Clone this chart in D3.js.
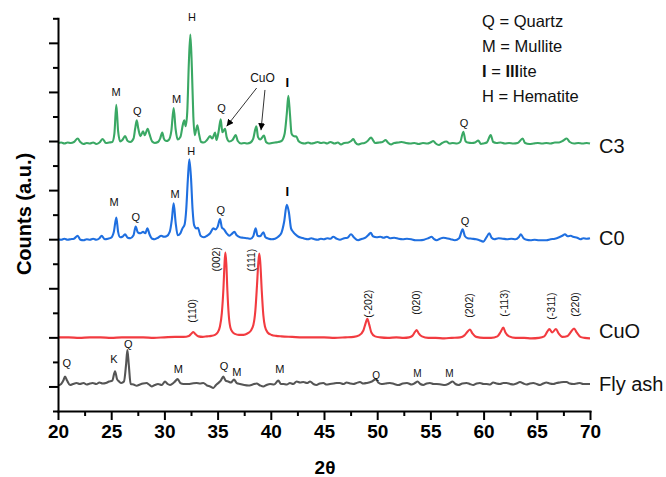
<!DOCTYPE html>
<html><head><meta charset="utf-8">
<script src="https://cdn.jsdelivr.net/npm/d3@7/dist/d3.min.js"></script>
<style>
body{margin:0;background:#fff;}
text{font-family:"Liberation Sans",Arial,sans-serif;}
</style></head>
<body><svg id="chart" width="666" height="477"></svg>
<script>
// ---------------- DATA ----------------
const seriesNames = ["C3", "C0", "CuO", "Fly ash"];
const seriesOffsets = [5, 3, 1, 0];
const seriesColors = ["#3aa864", "#1f6fe0", "#f23b40", "#555555"];

const c3 = [[20.0,-0.04],[20.3,-0.03],[20.6,-0.05],[20.9,-0.03],[21.2,-0.04],[21.5,-0.02],[21.85,0.05],[22.1,-0.02],[22.4,-0.06],[22.7,-0.04],[23.0,-0.05],[23.3,-0.03],[23.6,-0.06],[23.9,-0.03],[24.2,0.04],[24.5,-0.04],[24.8,-0.03],[25.1,-0.02],[25.3,0.15],[25.48,0.74],[25.65,0.2],[25.85,-0.01],[26.05,0.02],[26.3,0.1],[26.55,0.0],[26.8,-0.02],[27.1,0.05],[27.25,0.25],[27.4,0.42],[27.55,0.25],[27.75,0.1],[28.0,0.2],[28.15,0.12],[28.43,0.25],[28.6,0.14],[28.85,-0.01],[29.1,-0.04],[29.4,-0.02],[29.6,0.05],[29.8,0.17],[29.95,0.05],[30.15,0.0],[30.4,0.02],[30.65,0.2],[30.87,0.67],[31.05,0.25],[31.25,0.03],[31.5,0.08],[31.75,0.35],[31.87,0.42],[32.0,0.3],[32.15,0.6],[32.3,1.6],[32.44,2.17],[32.58,1.5],[32.72,0.5],[32.85,0.12],[33.0,0.25],[33.1,0.32],[33.25,0.15],[33.45,-0.02],[33.7,-0.03],[34.0,0.02],[34.29,0.1],[34.5,0.05],[34.76,0.17],[34.9,0.02],[35.1,0.2],[35.29,0.44],[35.45,0.18],[35.7,0.25],[35.85,0.08],[36.1,-0.01],[36.4,0.02],[36.7,0.12],[36.9,0.0],[37.2,-0.05],[37.5,-0.04],[37.8,-0.05],[38.1,-0.03],[38.35,0.05],[38.64,0.3],[38.8,0.08],[39.0,0.03],[39.36,0.11],[39.55,-0.02],[39.8,-0.05],[40.1,-0.04],[40.4,-0.03],[40.7,-0.02],[41.0,0.0],[41.3,0.15],[41.5,0.55],[41.65,0.92],[41.8,0.55],[41.95,0.15],[42.15,0.1],[42.4,0.09],[42.6,0.0],[42.9,-0.04],[43.2,-0.05],[43.5,-0.03],[43.8,-0.05],[44.1,-0.04],[44.4,-0.02],[44.7,-0.04],[45.0,-0.03],[45.3,-0.05],[45.6,-0.02],[46.0,-0.05],[46.3,-0.03],[46.6,-0.07],[46.9,-0.04],[47.3,-0.03],[47.55,0.0],[47.75,0.04],[47.95,-0.03],[48.2,-0.07],[48.5,-0.05],[48.8,-0.04],[49.1,0.0],[49.42,0.07],[49.6,0.02],[49.8,-0.04],[50.2,-0.03],[50.5,-0.02],[50.8,0.02],[51.0,-0.03],[51.3,-0.07],[51.6,-0.04],[52.0,-0.03],[52.3,-0.02],[52.7,-0.04],[53.1,-0.05],[53.5,-0.04],[53.9,-0.06],[54.3,-0.04],[54.7,-0.05],[55.0,-0.03],[55.27,0.0],[55.5,-0.05],[55.8,-0.08],[56.1,-0.04],[56.5,-0.01],[56.8,-0.05],[57.1,-0.04],[57.5,-0.05],[57.8,-0.02],[58.1,0.19],[58.3,0.0],[58.5,-0.03],[58.9,-0.04],[59.2,-0.03],[59.5,0.01],[59.75,-0.06],[60.0,-0.05],[60.3,-0.03],[60.67,0.12],[60.9,-0.02],[61.2,-0.04],[61.6,-0.03],[62.0,-0.05],[62.4,-0.04],[62.8,-0.05],[63.2,-0.04],[63.67,0.05],[63.9,-0.04],[64.3,-0.06],[64.7,-0.05],[65.1,-0.04],[65.5,-0.05],[65.9,-0.04],[66.3,-0.05],[66.7,-0.03],[67.1,-0.03],[67.5,0.01],[67.8,0.05],[68.1,-0.02],[68.5,-0.05],[68.9,-0.04],[69.3,-0.05],[69.7,-0.04],[70.0,-0.05]];

const c0 = [[20.0,0.0],[20.3,-0.01],[20.6,0.01],[20.9,-0.01],[21.2,0.0],[21.5,0.01],[21.85,0.07],[22.1,-0.01],[22.4,-0.02],[22.7,0.0],[23.0,-0.01],[23.3,0.01],[23.6,-0.01],[23.9,0.02],[24.1,0.07],[24.4,0.0],[24.7,0.01],[25.0,0.03],[25.25,0.15],[25.48,0.44],[25.65,0.15],[25.85,0.04],[26.05,0.05],[26.3,0.1],[26.55,0.03],[26.8,0.02],[27.1,0.08],[27.3,0.26],[27.5,0.14],[27.75,0.12],[28.0,0.15],[28.2,0.12],[28.4,0.22],[28.6,0.1],[28.85,0.01],[29.1,0.0],[29.4,0.03],[29.7,0.07],[29.95,0.05],[30.2,0.06],[30.5,0.15],[30.7,0.4],[30.87,0.73],[31.05,0.35],[31.25,0.08],[31.5,0.12],[31.7,0.22],[31.9,0.3],[32.05,0.6],[32.2,1.2],[32.34,1.63],[32.5,1.25],[32.65,0.6],[32.8,0.28],[33.0,0.22],[33.15,0.23],[33.4,0.07],[33.7,0.04],[34.0,0.07],[34.3,0.12],[34.6,0.22],[34.8,0.2],[35.0,0.25],[35.23,0.41],[35.4,0.24],[35.6,0.2],[35.85,0.12],[36.1,0.07],[36.3,0.1],[36.57,0.15],[36.8,0.08],[37.1,0.04],[37.4,0.03],[37.8,0.02],[38.1,0.01],[38.35,0.06],[38.58,0.22],[38.75,0.07],[39.0,0.06],[39.3,0.14],[39.5,0.04],[39.8,0.01],[40.1,0.0],[40.4,0.01],[40.7,0.05],[41.0,0.13],[41.25,0.35],[41.5,0.7],[41.7,0.55],[41.9,0.22],[42.1,0.15],[42.3,0.1],[42.6,0.05],[42.9,0.03],[43.2,0.01],[43.5,0.0],[43.8,0.02],[44.1,0.0],[44.4,-0.01],[44.7,0.01],[45.0,0.0],[45.3,0.02],[45.6,0.01],[45.87,0.05],[46.2,0.01],[46.5,-0.01],[46.9,0.02],[47.2,0.03],[47.54,0.1],[47.8,0.04],[48.2,-0.02],[48.6,0.01],[48.9,0.03],[49.15,0.08],[49.39,0.13],[49.6,0.06],[49.95,0.04],[50.3,0.05],[50.6,0.03],[50.9,0.05],[51.2,0.02],[51.6,0.03],[52.0,0.01],[52.4,0.0],[52.8,0.01],[53.2,0.0],[53.6,-0.02],[54.0,-0.02],[54.4,-0.01],[54.8,0.02],[55.12,0.05],[55.35,0.0],[55.59,-0.02],[55.9,0.01],[56.2,0.03],[56.5,0.02],[56.9,0.0],[57.3,-0.02],[57.7,0.02],[58.03,0.2],[58.25,0.06],[58.5,0.02],[58.9,0.01],[59.3,0.0],[59.6,-0.02],[59.97,-0.05],[60.25,0.03],[60.54,0.12],[60.75,0.03],[61.0,0.0],[61.4,0.02],[61.8,0.01],[62.2,0.0],[62.6,0.01],[63.0,0.0],[63.3,0.04],[63.5,0.1],[63.75,0.02],[64.04,-0.01],[64.4,-0.02],[64.8,-0.01],[65.2,-0.02],[65.6,-0.02],[65.9,-0.02],[66.3,0.0],[66.7,0.01],[67.1,0.04],[67.4,0.07],[67.65,0.1],[67.9,0.06],[68.2,0.07],[68.4,0.05],[68.8,0.03],[69.1,0.0],[69.37,0.02],[69.7,0.01],[70.0,0.02]];

const cuo = [[20.0,0.0],[21.0,0.0],[22.0,-0.01],[23.0,0.0],[24.0,0.0],[25.0,-0.01],[26.0,0.0],[27.0,0.0],[28.0,0.0],[29.0,-0.01],[30.0,0.0],[31.0,0.01],[31.8,0.01],[32.3,0.03],[32.55,0.08],[32.72,0.11],[32.9,0.07],[33.2,0.02],[33.6,0.01],[34.0,0.02],[34.4,0.03],[34.75,0.05],[35.0,0.1],[35.22,0.22],[35.4,0.5],[35.55,1.0],[35.65,1.5],[35.73,1.73],[35.82,1.5],[35.92,0.95],[36.05,0.45],[36.2,0.2],[36.4,0.11],[36.63,0.07],[37.0,0.05],[37.26,0.05],[37.6,0.06],[37.89,0.09],[38.1,0.13],[38.36,0.25],[38.55,0.55],[38.7,1.05],[38.82,1.5],[38.92,1.71],[39.02,1.5],[39.15,0.95],[39.3,0.45],[39.45,0.22],[39.7,0.1],[40.08,0.05],[40.5,0.03],[41.0,0.02],[42.0,0.01],[43.0,0.0],[44.0,0.0],[45.0,0.0],[46.0,-0.01],[47.0,0.0],[47.8,0.01],[48.3,0.04],[48.7,0.14],[48.9,0.28],[49.07,0.38],[49.25,0.26],[49.45,0.1],[49.8,0.02],[50.3,0.0],[51.0,-0.01],[51.8,0.0],[52.5,-0.01],[53.0,0.0],[53.3,0.03],[53.55,0.11],[53.71,0.15],[53.9,0.08],[54.2,0.02],[54.8,-0.01],[55.5,-0.01],[56.3,-0.02],[57.0,-0.01],[57.8,0.0],[58.2,0.04],[58.5,0.12],[58.72,0.16],[58.95,0.08],[59.3,0.01],[60.0,-0.01],[60.7,-0.01],[61.3,0.02],[61.6,0.11],[61.85,0.2],[62.05,0.1],[62.4,0.02],[63.0,-0.01],[63.8,-0.01],[64.5,-0.02],[65.2,-0.01],[65.7,0.02],[66.0,0.12],[66.18,0.17],[66.45,0.1],[66.8,0.17],[67.05,0.08],[67.4,0.01],[67.9,0.03],[68.2,0.11],[68.5,0.18],[68.75,0.1],[69.1,0.01],[69.5,-0.01],[70.0,-0.02]];

const flyash = [[20.0,0.02],[20.3,0.05],[20.5,0.12],[20.66,0.2],[20.85,0.12],[21.13,0.03],[21.4,0.05],[21.75,0.07],[22.05,0.05],[22.4,0.07],[22.7,0.04],[23.0,0.06],[23.26,0.07],[23.6,0.05],[23.89,0.08],[24.2,0.06],[24.5,0.07],[24.8,0.1],[25.1,0.12],[25.36,0.31],[25.55,0.15],[25.75,0.1],[25.95,0.07],[26.2,0.1],[26.4,0.45],[26.52,0.74],[26.65,0.45],[26.83,0.05],[27.1,0.04],[27.4,0.015],[27.7,0.04],[28.0,0.06],[28.33,0.07],[28.55,0.04],[28.8,0.0],[29.1,0.03],[29.4,0.05],[29.75,0.03],[30.06,0.1],[30.3,0.05],[30.53,0.03],[30.9,0.08],[31.25,0.15],[31.5,0.07],[31.8,0.05],[32.25,0.05],[32.6,0.06],[33.03,0.07],[33.35,0.06],[33.66,0.07],[34.0,0.02],[34.3,0.0],[34.6,-0.03],[34.85,0.03],[35.07,0.07],[35.3,0.12],[35.54,0.2],[35.75,0.12],[36.01,0.1],[36.25,0.08],[36.54,0.14],[36.8,0.07],[37.1,0.05],[37.5,0.03],[37.9,0.02],[38.3,0.04],[38.67,0.06],[39.0,0.02],[39.3,0.0],[39.6,0.03],[39.93,0.05],[40.3,0.04],[40.71,0.12],[40.95,0.05],[41.18,0.05],[41.5,0.04],[41.8,0.07],[42.1,0.05],[42.43,0.1],[42.75,0.08],[43.06,0.09],[43.4,0.07],[43.69,0.1],[44.0,0.05],[44.3,0.03],[44.6,0.06],[44.94,0.07],[45.25,0.04],[45.56,0.05],[45.9,0.06],[46.2,0.07],[46.5,0.07],[46.8,0.05],[47.13,0.08],[47.45,0.06],[47.75,0.05],[48.05,0.07],[48.38,0.09],[48.7,0.06],[49.0,0.07],[49.5,0.1],[49.88,0.15],[50.1,0.08],[50.4,0.05],[50.8,0.06],[51.2,0.07],[51.6,0.05],[52.0,0.03],[52.4,0.06],[52.8,0.07],[53.24,0.04],[53.55,0.07],[53.8,0.1],[54.05,0.05],[54.33,0.03],[54.65,0.06],[54.96,0.07],[55.3,0.05],[55.6,0.05],[56.0,0.04],[56.37,0.03],[56.75,0.06],[57.09,0.1],[57.35,0.05],[57.62,0.03],[58.0,0.06],[58.4,0.07],[58.7,0.05],[59.03,0.03],[59.35,0.06],[59.66,0.07],[60.0,0.05],[60.28,0.05],[60.6,0.04],[60.9,0.08],[61.2,0.06],[61.54,0.05],[61.85,0.07],[62.16,0.07],[62.5,0.05],[62.8,0.04],[63.1,0.06],[63.42,0.09],[63.75,0.06],[64.04,0.04],[64.35,0.06],[64.67,0.07],[65.0,0.05],[65.3,0.03],[65.6,0.06],[65.9,0.08],[66.2,0.06],[66.55,0.05],[66.85,0.07],[67.17,0.08],[67.5,0.09],[67.8,0.09],[68.1,0.06],[68.43,0.05],[68.75,0.06],[69.05,0.07],[69.35,0.05],[69.68,0.05],[70.0,0.05]];

const seriesData = [c3, c0, cuo, flyash];

const xTicks = [20, 25, 30, 35, 40, 45, 50, 55, 60, 65, 70];
const yMajorTicks = [0, 1, 2, 3, 4, 5, 6, 7];

// phase labels: [2theta, absolute y (units), text]
const c3Labels = [[25.45,5.91,"M"],[27.45,5.54,"Q"],[31.15,5.78,"M"],[32.6,7.44,"H"],[35.37,5.59,"Q"],[58.16,5.29,"Q"]];
const c0Labels = [[25.28,3.68,"M"],[27.31,3.38,"Q"],[31.01,3.84,"M"],[32.52,4.71,"H"],[35.3,3.52,"Q"],[58.25,3.28,"Q"]];
const illiteLabels = [[41.55,6.1],[41.55,3.87]];
const cuoText = [39.22, 6.2, "CuO"];
const cuoArrows = [[[38.67,6.08],[35.85,5.3]],[[39.45,6.04],[39.08,5.22]]];
const hklLabels = [[32.66,1.3,"(110)"],[34.85,2.34,"(002)"],[38.2,2.34,"(111)"],[49.16,1.4,"(-202)"],[53.71,1.46,"(020)"],[58.66,1.4,"(202)"],[61.92,1.42,"(-113)"],[66.4,1.36,"(-311)"],[68.59,1.42,"(220)"]];
const flyLabels = [[20.82,0.40,"Q"],[25.26,0.48,"K"],[26.6,0.79,"Q"],[31.3,0.28,"M"],[35.6,0.34,"Q"],[36.8,0.22,"M"],[40.86,0.28,"M"]];
const flyLabelsSmall = [[49.89,0.16,"Q"],[53.77,0.2,"M"],[56.78,0.2,"M"]];
const legendLines = ["Q = Quartz", "M = Mullite", "I = Illite", "H = Hematite"];

// ---------------- CHART ----------------
const svg = d3.select("#chart");
const x = d3.scaleLinear().domain([20, 70]).range([58, 590]);
const y = d3.scaleLinear().domain([-0.5, 7.5]).range([411, 18.3]);

svg.append("defs").append("marker")
  .attr("id","arrow").attr("viewBox","0 0 10 10").attr("refX",10).attr("refY",5)
  .attr("markerWidth",7).attr("markerHeight",7).attr("markerUnits","userSpaceOnUse")
  .attr("orient","auto")
  .append("path").attr("d","M0,0 L10,5 L0,10 z").attr("fill","#000");

// series lines
const line = d3.line().curve(d3.curveMonotoneX);
seriesData.forEach((d, i) => {
  const off = seriesOffsets[i];
  svg.append("path")
    .attr("d", line(d.map(p => [x(p[0]), y(p[1] + off)])))
    .attr("fill","none").attr("stroke", seriesColors[i])
    .attr("stroke-width", 2.1).attr("stroke-linejoin","round");
});

// axes
const xAxis = svg.append("g").attr("transform","translate(0,411)")
  .call(d3.axisBottom(x).tickValues(xTicks).tickSize(9).tickSizeOuter(0).tickPadding(5).tickFormat(d3.format("d")));
svg.append("g").attr("transform","translate(0,411)")
  .call(d3.axisBottom(x).tickValues(d3.range(22.5, 70, 5)).tickSize(5).tickSizeOuter(0).tickFormat(""))
  .select(".domain").remove();
xAxis.selectAll("text").attr("font-size",19).attr("font-weight","bold").attr("fill","#000")
  .style("font-family",'"Liberation Sans",Arial,sans-serif');
const yAxis = svg.append("g").attr("transform","translate(58,0)")
  .call(d3.axisLeft(y).tickValues(yMajorTicks).tickSize(9).tickSizeOuter(0).tickFormat(""));
svg.append("g").attr("transform","translate(58,0)")
  .call(d3.axisLeft(y).tickValues(d3.range(-0.5, 7.6, 1)).tickSize(5).tickSizeOuter(0).tickFormat(""))
  .select(".domain").remove();
svg.selectAll(".domain, .tick line").attr("stroke","#000").attr("stroke-width",2);
svg.selectAll(".domain").attr("stroke-linecap","square");

// axis titles
svg.append("text").attr("x", 325).attr("y", 474).attr("text-anchor","middle")
  .attr("font-size",19).attr("font-weight","bold").text("2θ");
svg.append("text").attr("transform","translate(31,214) rotate(-90)").attr("text-anchor","middle")
  .attr("font-size",20).attr("font-weight","bold").text("Counts (a.u.)");

// series names
const nameDy = [11.5, 5.5, 1, 4.5];
seriesNames.forEach((n, i) => {
  svg.append("text").attr("x", 599).attr("y", y(seriesOffsets[i]) + nameDy[i])
    .attr("font-size",20).attr("fill","#111").text(n);
});

// phase labels
function addLabels(arr, size) {
  arr.forEach(a => {
    svg.append("text").attr("x", x(a[0])).attr("y", y(a[1])).attr("text-anchor","middle")
      .attr("font-size", size).attr("fill","#111").text(a[2]);
  });
}
addLabels(c3Labels, 11);
addLabels(c0Labels, 11);
addLabels(flyLabels, 11);
addLabels(flyLabelsSmall, 10);
illiteLabels.forEach(a => {
  svg.append("text").attr("x", x(a[0])).attr("y", y(a[1])).attr("text-anchor","middle")
    .attr("font-size", 13).attr("font-weight","bold").attr("fill","#000").text("I");
});
svg.append("text").attr("x", x(cuoText[0])).attr("y", y(cuoText[1])).attr("text-anchor","middle")
  .attr("font-size", 12).attr("fill","#111").text(cuoText[2]);
cuoArrows.forEach(a => {
  svg.append("line").attr("x1", x(a[0][0])).attr("y1", y(a[0][1]))
    .attr("x2", x(a[1][0])).attr("y2", y(a[1][1]))
    .attr("stroke","#000").attr("stroke-width",0.8).attr("marker-end","url(#arrow)");
});
hklLabels.forEach(a => {
  svg.append("text").attr("transform", `translate(${x(a[0])},${y(a[1])}) rotate(-90)`)
    .attr("dy","0.35em").attr("font-size",10.5).attr("fill","#111").text(a[2]);
});

// legend
const legend = svg.append("g").attr("transform","translate(482,27)");
legendLines.forEach((t, i) => {
  const tx = legend.append("text").attr("x",0).attr("y", i * 24.9).attr("font-size",16.5).attr("fill","#111");
  if (t.startsWith("I =")) {
    tx.append("tspan").attr("font-weight","bold").text("I");
    tx.append("tspan").text(" = ");
    tx.append("tspan").attr("font-weight","bold").text("Ill");
    tx.append("tspan").text("ite");
  } else {
    tx.text(t);
  }
});
</script></body></html>
